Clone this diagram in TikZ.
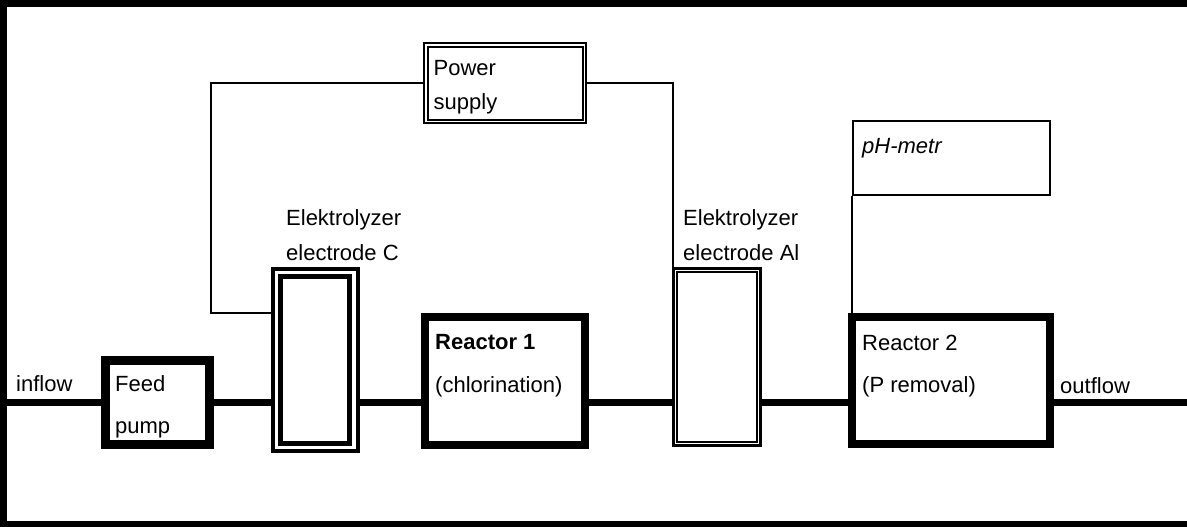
\documentclass[tikz,border=0pt]{standalone}
\usepackage{fontspec}
\setmainfont{Liberation Sans}
\begin{document}
\begin{tikzpicture}[x=1pt,y=-1pt,
  lbl/.style={anchor=base west, inner sep=0pt, font=\fontsize{22}{26}\selectfont},
  unit/.style={draw, rectangle, inner sep=0pt, line width=8pt},
  thinbox/.style={draw, rectangle, inner sep=0pt, line width=2.3pt},
  pipe/.style={line width=7.5pt},
  wire/.style={line width=2pt},
  frameline/.style={line width=7pt}
]
\useasboundingbox (0,0) rectangle (1187,527);
% frame (right side lies outside the picture)
\draw[frameline] (1200,3.2) -- (3.5,3.2) -- (3.5,524) -- (1200,524);

% units
\node[unit, line width=9pt, minimum width=104pt, minimum height=84pt] (pump) at (157.5,402.5) {};
\node[draw, rectangle, inner sep=0pt, line width=4pt, minimum width=85pt, minimum height=181.5pt] (elC) at (315.5,359.75) {};
\node[draw, rectangle, inner sep=0pt, line width=5pt, minimum width=68.7pt, minimum height=167pt] (elCin) at (315.15,359.5) {};
\node[unit, minimum width=160pt, minimum height=128pt] (r1) at (505,381) {};
\node[thinbox, line width=2.6pt, minimum width=87.4pt, minimum height=177.4pt] (elAl) at (717,357) {};
\node[thinbox, line width=2.6pt, minimum width=80pt, minimum height=170pt] (elAlin) at (717,357) {};
\node[unit, minimum width=198pt, minimum height=127pt] (r2) at (951,380.5) {};
\node[thinbox, line width=2pt, minimum width=162pt, minimum height=80pt] (ps) at (505,83) {};
\node[thinbox, line width=2pt, minimum width=155pt, minimum height=73pt] (psin) at (505,83.5) {};
\node[thinbox, minimum width=197pt, minimum height=74pt] (ph) at (951.5,158) {};

% labels
\node[lbl] (tin) at (16,391.7) {inflow};
\node[lbl] (tfeed) at (115,391.7) {Feed};
\node[lbl] (tpump) at (115,433) {pump};
\node[lbl] (telC1) at (286,225.5) {Elektrolyzer};
\node[lbl] (telC2) at (286,260) {electrode C};
\node[lbl] (tr1a) at (435,349.5) {\bfseries Reactor 1};
\node[lbl] (tr1b) at (435,392) {(chlorination)};
\node[lbl] (tps1) at (433.5,75.7) {Power};
\node[lbl] (tps2) at (433.5,110) {supply};
\node[lbl] (telA1) at (683,225) {Elektrolyzer};
\node[lbl] (telA2) at (683,260) {electrode Al};
\node[lbl] (tr2a) at (862,350.5) {Reactor 2};
\node[lbl] (tr2b) at (862,392.5) {(P removal)};
\node[lbl] (tph) at (862,153.3) {\itshape pH-metr};
\node[lbl] (tout) at (1060,393) {outflow};

% main process line
\coordinate (inl) at (3.5,402.5);
\coordinate (outl) at (1195,402.5);
\draw[pipe] (inl) -- (inl -| pump.west);
\draw[pipe] (pump.east) -- (pump.east -| elC.west);
\draw[pipe] (pump.east -| elC.east) -- (pump.east -| r1.west);
\draw[pipe] (pump.east -| r1.east) -- (pump.east -| elAl.west);
\draw[pipe] (pump.east -| elAl.east) -- (pump.east -| r2.west);
\draw[pipe] (pump.east -| r2.east) -- (outl);

% electric wires
\coordinate (wl) at (211,313);
\draw[wire] (ps.west) -| (wl) -- (wl -| elC.west);
\draw[wire] (ps.east) -| ([xshift=1pt]elAl.north west);
\draw[wire] (ph.south west) -- (ph.south west |- r2.north);
\end{tikzpicture}
\end{document}
